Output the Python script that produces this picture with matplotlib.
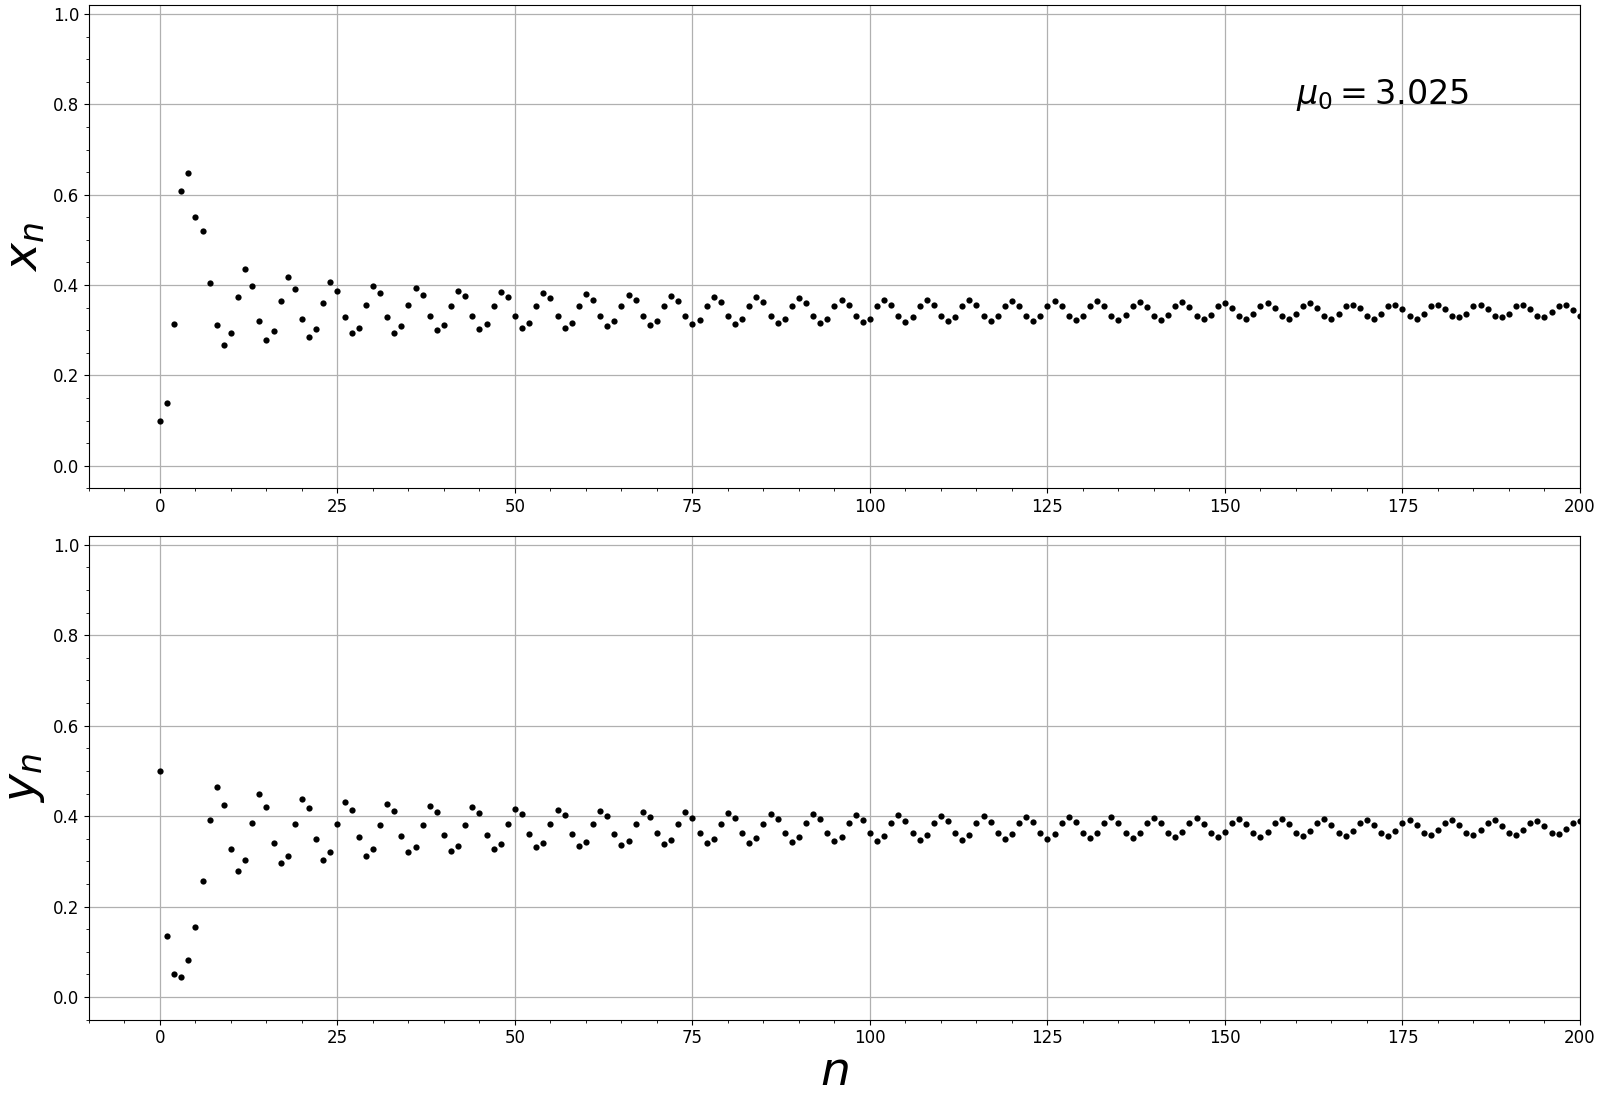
import matplotlib
matplotlib.use("Agg")
import matplotlib.pyplot as plt
import numpy as np

# Werte
x_n = [
    0.100, 0.140, 0.313, 0.608, 0.648, 0.550, 0.519, 0.404, 0.311, 0.267,
    0.293, 0.373, 0.435, 0.397, 0.320, 0.278, 0.298, 0.364, 0.417, 0.391,
    0.324, 0.286, 0.302, 0.360, 0.406, 0.386, 0.329, 0.293, 0.304, 0.357,
    0.397, 0.382, 0.329, 0.295, 0.309, 0.355, 0.393, 0.377, 0.331, 0.300,
    0.311, 0.353, 0.388, 0.375, 0.331, 0.302, 0.313, 0.353, 0.384, 0.373,
    0.331, 0.304, 0.315, 0.353, 0.382, 0.371, 0.331, 0.306, 0.317, 0.353,
    0.380, 0.368, 0.331, 0.309, 0.320, 0.353, 0.377, 0.366, 0.331, 0.311,
    0.320, 0.353, 0.375, 0.364, 0.331, 0.313, 0.322, 0.353, 0.373, 0.362,
    0.331, 0.313, 0.324, 0.353, 0.373, 0.362, 0.331, 0.315, 0.324, 0.353,
    0.371, 0.360, 0.331, 0.315, 0.326, 0.353, 0.368, 0.357, 0.331, 0.318,
    0.326, 0.353, 0.368, 0.357, 0.331, 0.318, 0.329, 0.353, 0.366, 0.355,
    0.331, 0.320, 0.329, 0.353, 0.366, 0.355, 0.331, 0.320, 0.331, 0.353,
    0.364, 0.353, 0.331, 0.320, 0.331, 0.353, 0.364, 0.353, 0.331, 0.322,
    0.331, 0.353, 0.364, 0.353, 0.331, 0.322, 0.333, 0.353, 0.362, 0.351,
    0.331, 0.322, 0.333, 0.353, 0.362, 0.351, 0.331, 0.324, 0.333, 0.353,
    0.360, 0.349, 0.331, 0.324, 0.335, 0.353, 0.360, 0.349, 0.331, 0.324,
    0.335, 0.353, 0.360, 0.349, 0.331, 0.326, 0.335, 0.353, 0.357, 0.349,
    0.331, 0.326, 0.337, 0.353, 0.357, 0.346, 0.331, 0.326, 0.337, 0.353,
    0.357, 0.346, 0.331, 0.329, 0.337, 0.353, 0.357, 0.346, 0.331, 0.329,
    0.337, 0.353, 0.355, 0.346, 0.331, 0.329, 0.340, 0.353, 0.355, 0.344,
    0.331,
]

y_n = [
    0.500, 0.136, 0.051, 0.044, 0.082, 0.156, 0.256, 0.391, 0.464, 0.424,
    0.327, 0.278, 0.302, 0.384, 0.449, 0.420, 0.340, 0.296, 0.313, 0.382,
    0.438, 0.418, 0.349, 0.304, 0.320, 0.382, 0.431, 0.413, 0.353, 0.313,
    0.327, 0.380, 0.427, 0.411, 0.356, 0.320, 0.331, 0.380, 0.422, 0.409,
    0.358, 0.324, 0.333, 0.380, 0.420, 0.407, 0.358, 0.327, 0.338, 0.382,
    0.416, 0.404, 0.360, 0.331, 0.340, 0.382, 0.413, 0.402, 0.360, 0.333,
    0.342, 0.382, 0.411, 0.400, 0.360, 0.336, 0.344, 0.382, 0.409, 0.398,
    0.362, 0.338, 0.347, 0.382, 0.409, 0.396, 0.362, 0.340, 0.349, 0.382,
    0.407, 0.396, 0.362, 0.340, 0.351, 0.382, 0.404, 0.393, 0.362, 0.342,
    0.353, 0.384, 0.404, 0.393, 0.362, 0.344, 0.353, 0.384, 0.402, 0.391,
    0.362, 0.344, 0.356, 0.384, 0.402, 0.389, 0.362, 0.347, 0.358, 0.384,
    0.400, 0.389, 0.362, 0.347, 0.358, 0.384, 0.400, 0.387, 0.362, 0.349,
    0.360, 0.384, 0.398, 0.387, 0.362, 0.349, 0.360, 0.384, 0.398, 0.387,
    0.362, 0.351, 0.362, 0.384, 0.398, 0.384, 0.362, 0.351, 0.362, 0.384,
    0.396, 0.384, 0.362, 0.353, 0.364, 0.384, 0.396, 0.382, 0.362, 0.353,
    0.364, 0.384, 0.393, 0.382, 0.362, 0.353, 0.364, 0.384, 0.393, 0.382,
    0.362, 0.356, 0.367, 0.384, 0.393, 0.380, 0.362, 0.356, 0.367, 0.384,
    0.391, 0.380, 0.362, 0.356, 0.367, 0.384, 0.391, 0.380, 0.362, 0.358,
    0.369, 0.384, 0.391, 0.380, 0.362, 0.358, 0.369, 0.384, 0.391, 0.378,
    0.362, 0.358, 0.369, 0.384, 0.389, 0.378, 0.362, 0.360, 0.371, 0.384,
    0.389,
]

n = np.arange(len(x_n))
mu0_label = r"$\mu_0 = 3.025$"

fig = plt.figure(figsize=(16, 11), dpi=100)
ax1 = fig.add_axes([0.0556, 0.5560, 0.9319, 0.4395])
ax2 = fig.add_axes([0.0556, 0.0730, 0.9319, 0.4400])

for ax, vals, lab in [(ax1, x_n, r"$x_n$"), (ax2, y_n, r"$y_n$")]:
    ax.plot(n, vals, "o", color="black", markersize=4.5, markeredgewidth=0)
    ax.set_xlim(-10, 200)
    ax.set_ylim(-0.05, 1.02)
    ax.set_xticks([0, 25, 50, 75, 100, 125, 150, 175, 200])
    ax.set_yticks([0.0, 0.2, 0.4, 0.6, 0.8, 1.0])
    ax.minorticks_on()
    ax.grid(True, which="major", color="#b0b0b0", linewidth=0.9)
    ax.tick_params(labelsize=12)
    ax.set_ylabel(lab, fontsize=34, labelpad=4)

ax1.text(160, 0.8, mu0_label, fontsize=24)
ax2.set_xlabel(r"$n$", fontsize=34, labelpad=2)

plt.savefig("out.png", dpi=100)
